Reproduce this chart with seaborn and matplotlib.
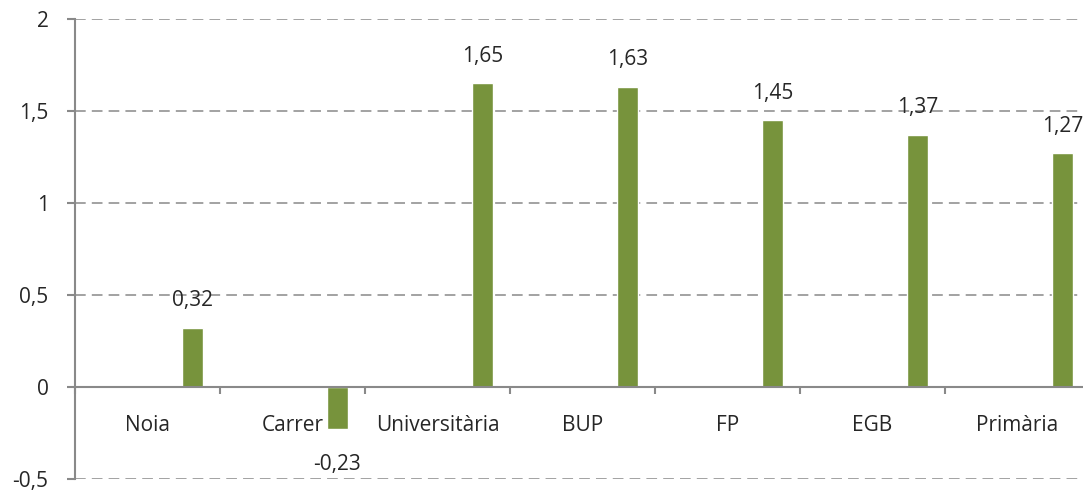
import numpy as np
import pandas as pd
import matplotlib.pyplot as plt
import seaborn as sns

categories = ['Noia', 'Carrer', 'Universitària', 'BUP', 'FP', 'EGB', 'Primària']
values = [0.32, -0.23, 1.65, 1.63, 1.45, 1.37, 1.27]
ytick_values = [-0.5, 0, 0.5, 1, 1.5, 2]

sns.set_style('white')
plt.rcParams['font.family'] = ['Open Sans', 'DejaVu Sans']

green = '#77933C'
grey = '#898989'

df = pd.DataFrame({'categoria': categories, 'valor': values})
# bars sit to the right of each category slot (empty first series in the original)
df['pos'] = np.arange(len(categories)) + 0.31

fig = plt.figure(figsize=(10.83, 4.92), dpi=100)
ax = fig.add_axes([75 / 1083, 13 / 492, 1015 / 1083, 460 / 492])

sns.barplot(data=df, x='pos', y='valor', native_scale=True, width=0.15,
            color=green, saturation=1, errorbar=None, ax=ax)

ax.set_xlim(-0.5, len(categories) - 0.5)
ax.set_ylim(-0.5, 2)
ax.set_xlabel('')
ax.set_ylabel('')

# slot boundary ticks and centred labels
ax.set_xticks(np.arange(len(categories) + 1) - 0.5)
ax.set_xticklabels([])
ax.set_xticks(np.arange(len(categories)), minor=True)
ax.set_xticklabels(categories, minor=True)
ax.tick_params(axis='x', which='major', direction='out', length=5, width=1.5,
               color=grey, bottom=True)
ax.tick_params(axis='x', which='minor', length=0, pad=20, labelsize=15)

ax.set_yticks(ytick_values)
ax.set_yticklabels([f'{v:g}'.replace('.', ',') for v in ytick_values])
ax.tick_params(axis='y', direction='out', length=6, width=1.5, color=grey,
               left=True, pad=13, labelsize=15)

ax.yaxis.grid(True, linestyle=(0, (7, 4)), color=grey, linewidth=1.1)
ax.xaxis.grid(False)
ax.set_axisbelow(True)

for side in ['top', 'right']:
    ax.spines[side].set_visible(False)
ax.spines['bottom'].set_position(('data', 0))
ax.spines['bottom'].set_color(grey)
ax.spines['bottom'].set_linewidth(1.5)
ax.spines['left'].set_color(grey)
ax.spines['left'].set_linewidth(1.5)

# value labels, the negative one sits a little further from its bar
bars = ax.containers[0]
for bar, v in zip(bars, values):
    ax.annotate(f'{v:.2f}'.replace('.', ','),
                (bar.get_x() + bar.get_width() / 2, v),
                xytext=(0, 12 if v >= 0 else -18), textcoords='offset points',
                ha='center', va='bottom' if v >= 0 else 'top', fontsize=15)

fig.savefig('out.png', dpi=100)
